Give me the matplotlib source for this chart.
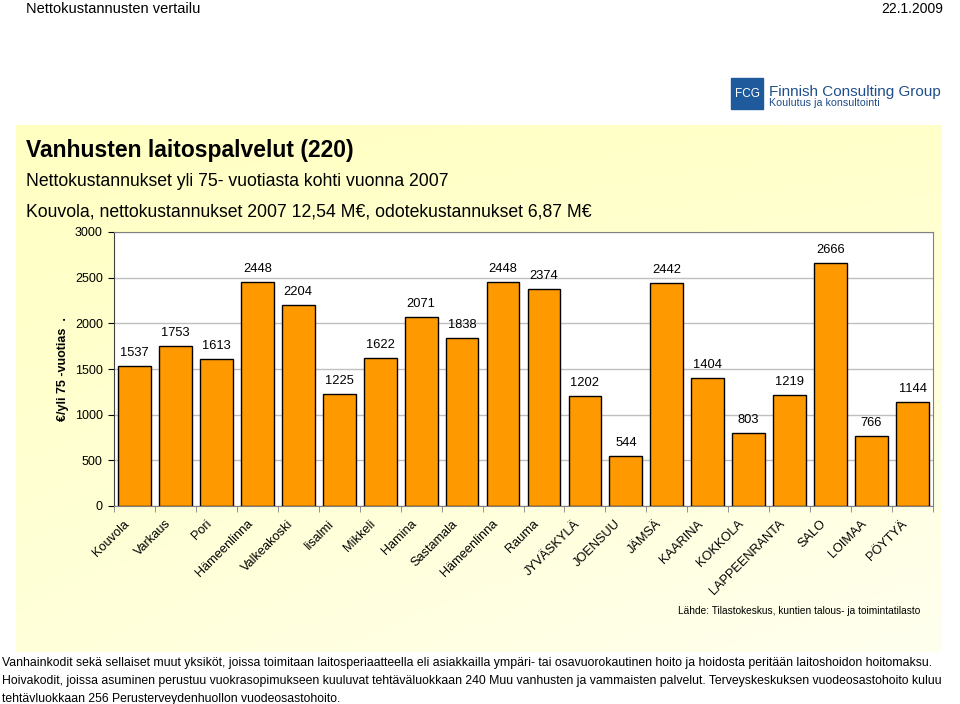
import matplotlib
matplotlib.use("Agg")
import matplotlib.pyplot as plt
import matplotlib.transforms as mtransforms
import numpy as np
from matplotlib.patches import Rectangle

plt.rcParams['font.family'] = ['Liberation Sans', 'DejaVu Sans']

kunnat = ["Kouvola", "Varkaus", "Pori", "Hämeenlinna", "Valkeakoski", "Iisalmi",
          "Mikkeli", "Hamina", "Sastamala", "Hämeenlinna", "Rauma", "JYVÄSKYLÄ",
          "JOENSUU", "JÄMSÄ", "KAARINA", "KOKKOLA", "LAPPEENRANTA", "SALO",
          "LOIMAA", "PÖYTYÄ"]
kustannus = [1537, 1753, 1613, 2448, 2204, 1225, 1622, 2071, 1838, 2448, 2374,
             1202, 544, 2442, 1404, 803, 1219, 2666, 766, 1144]
yticks = [0, 500, 1000, 1500, 2000, 2500, 3000]

fig = plt.figure(figsize=(9.6, 7.04), dpi=100)

# background panel with pale yellow gradient
bg = fig.add_axes([0, 0, 1, 1], zorder=-10)
bg.set_xlim(0, 960)
bg.set_ylim(704, 0)
bg.axis('off')
gx = np.linspace(0, 1, 200)
gy = np.linspace(0, 1, 120)
X, Y = np.meshgrid(gx, gy)
t = np.clip(0.5 * X + 0.55 * Y - 0.3 * X * (1 - Y), 0, 1)
c0 = np.array([1.0, 1.0, 0.76])
c1 = np.array([1.0, 1.0, 0.93])
img = c0[None, None, :] * (1 - t[..., None]) + c1[None, None, :] * t[..., None]
bg.imshow(img, extent=[16, 942, 652, 125], aspect='auto', zorder=0)

# header
fig.text(26 / 960, 1 - 9 / 704, "Nettokustannusten vertailu", fontsize=10.5,
         va='center')
fig.text(943 / 960, 1 - 9 / 704, "22.1.2009", fontsize=10,
         va='center', ha='right')

# logo
bg.add_patch(Rectangle((731, 78), 32, 31, color='#1f5a9c', zorder=2))
bg.text(747, 94, "FCG", color='white', fontsize=8.5, ha='center', va='center',
        zorder=3)
bg.text(769, 92, "Finnish Consulting Group", color='#1f4f8a', fontsize=11,
        va='center', zorder=3)
bg.text(769, 103, "Koulutus ja konsultointi", color='#1f4f8a', fontsize=7.7,
        va='center', zorder=3)

# titles
fig.text(26 / 960, 1 - 150 / 704, "Vanhusten laitospalvelut (220)", fontsize=16.5,
         fontweight='bold', va='center')
fig.text(26 / 960, 1 - 181 / 704, "Nettokustannukset yli 75- vuotiasta kohti vuonna 2007",
         fontsize=12.7, va='center')
fig.text(26 / 960, 1 - 212 / 704, "Kouvola, nettokustannukset 2007 12,54 M€, odotekustannukset 6,87 M€",
         fontsize=12.7, va='center')

ax = fig.add_axes([114 / 960, 1 - 506 / 704, (933 - 114) / 960, (506 - 232) / 704])
ax.set_facecolor('white')
x = np.arange(len(kunnat))
ax.bar(x, kustannus, width=0.8, color='#FF9900', edgecolor='black', linewidth=1, zorder=3)
for xi, v in zip(x, kustannus):
    ax.annotate(str(v), (xi, v), xytext=(0, 5), textcoords='offset points',
                ha='center', va='bottom', fontsize=9.3)
ax.set_xlim(-0.5, len(kunnat) - 0.5)
ax.set_ylim(0, 3000)
ax.set_yticks(yticks)
ax.tick_params(axis='y', labelsize=9, length=4, direction='out', pad=4)
ax.yaxis.grid(True, color='#c0c0c0', linewidth=1, zorder=0)
ax.set_xticks(x)
ax.set_xticks(np.arange(-0.5, len(kunnat)), minor=True)
ax.tick_params(axis='x', length=0, pad=7)
ax.tick_params(axis='x', which='minor', length=4, color='#808080')
ax.set_xticklabels(kunnat, rotation=45, ha='right', va='top',
                   rotation_mode='anchor', fontsize=9.2)
shift = mtransforms.ScaledTranslation(-11 / 100, -2 / 100, fig.dpi_scale_trans)
for lab in ax.get_xticklabels():
    lab.set_transform(lab.get_transform() + shift)
for s in ['top', 'right']:
    ax.spines[s].set_color('#808080')
ax.spines['left'].set_color('#404040')
ax.spines['bottom'].set_color('#808080')
ax.set_ylabel("€/yli 75 -vuotias  .", fontsize=9, fontweight='bold', labelpad=4)

fig.text(920 / 960, 1 - 611 / 704,
         "Lähde: Tilastokeskus, kuntien talous- ja toimintatilasto",
         fontsize=7.3, ha='right', va='center')

foot = [
    "Vanhainkodit sekä sellaiset muut yksiköt, joissa toimitaan laitosperiaatteella eli asiakkailla ympäri- tai osavuorokautinen hoito ja hoidosta peritään laitoshoidon hoitomaksu.",
    "Hoivakodit, joissa asuminen perustuu vuokrasopimukseen kuuluvat tehtäväluokkaan 240 Muu vanhusten ja vammaisten palvelut. Terveyskeskuksen vuodeosastohoito kuluu",
    "tehtävluokkaan 256 Perusterveydenhuollon vuodeosastohoito.",
]
for i, line in enumerate(foot):
    fig.text(2 / 960, 1 - (663 + 18 * i) / 704, line, fontsize=8.8, va='center')

fig.savefig("out.png", dpi=100)
